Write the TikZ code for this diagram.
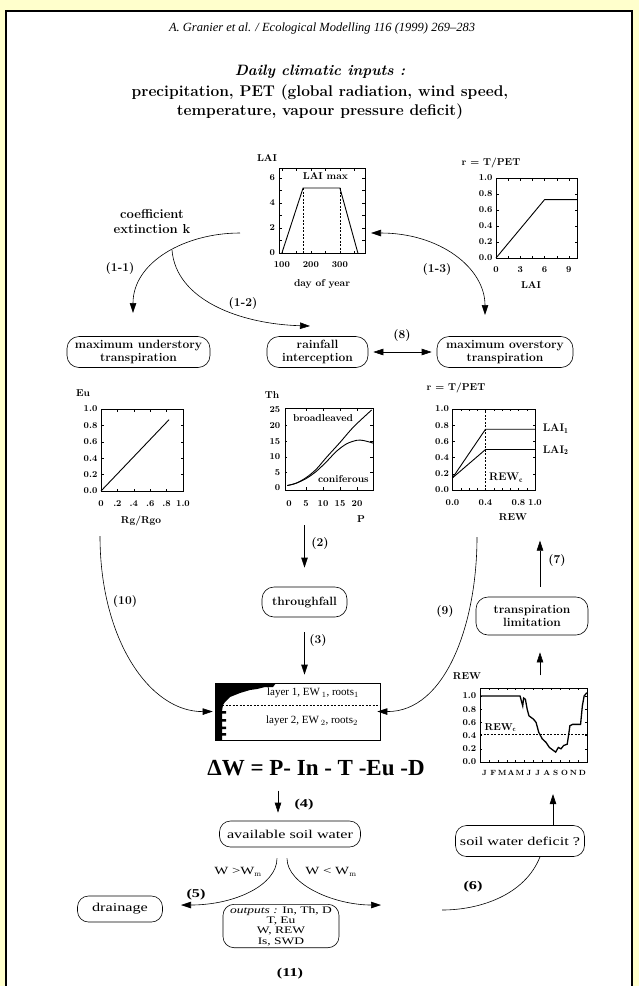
\documentclass[tikz,border=0pt]{standalone}
\usepackage{fontspec}
\newfontfamily\timesfont{Liberation Serif}
\newfontfamily\widefont[FakeStretch=1.35]{Liberation Serif}
\usetikzlibrary{arrows.meta, positioning}
\definecolor{pagebg}{RGB}{255,255,204}

\tikzset{
  stagebox/.style={draw, line width=0.6pt, rounded corners=12pt, align=center, inner sep=2pt, font=\fontsize{12}{13}\selectfont\bfseries},
  lowbox/.style={draw, line width=0.6pt, rounded corners=11pt, align=center, inner sep=2pt, font=\widefont\fontsize{12}{13}\selectfont},
  flow/.style={-{Triangle[length=10pt,width=6.5pt]}, line width=0.6pt},
  twoway/.style={{Triangle[length=10pt,width=6.5pt]}-{Triangle[length=10pt,width=6.5pt]}, line width=0.6pt},
  steplabel/.style={font=\fontsize{12}{13}\selectfont\bfseries},
  lowlabel/.style={font=\widefont\bfseries\fontsize{12}{13}\selectfont},
  ticklab/.style={font=\fontsize{9}{10}\selectfont\bfseries, inner sep=1pt},
  axtitle/.style={font=\fontsize{10}{11}\selectfont\bfseries, inner sep=1pt},
  plotframe/.style={line width=0.6pt},
  curve/.style={line width=0.9pt},
  guide/.style={line width=0.5pt, dash pattern=on 2pt off 1.5pt},
}

\begin{document}
\begin{tikzpicture}[x=1pt, y=-1pt]
  \useasboundingbox (0,0) rectangle (639,986);
  \fill[pagebg] (0,0) rectangle (639,986);
  \draw[fill=white, line width=1.2pt] (6,11) rectangle (632,995);

  % heading
  \node[font=\timesfont\itshape\fontsize{12.5}{14}\selectfont] (journal) at (322,28) {A. Granier et al. / Ecological Modelling 116 (1999) 269–283};
  \node[font=\fontsize{15}{17}\selectfont\bfseries\itshape] (inputs) at (320,72) {Daily climatic inputs :};
  \node[font=\fontsize{15.5}{19}\selectfont\bfseries, align=center] (drivers) at (320,102) {precipitation, PET (global radiation, wind speed,\\temperature, vapour pressure deficit)};

  % LAI over the year
  \node[axtitle] (laititle) at (267,158) {LAI};
  \node[axtitle] (laidays) at (322,284) {day of year};
  \begin{scope}[shift={(279,253)}, x=0.29pt, y=12.5pt]
    \draw[plotframe] (0,0) rectangle (296,6.8);
    \foreach \d in {10,60,...,260} {
      \draw (\d,0) -- ++(0,2.5pt);
      \draw (\d,6.8) -- ++(0,-2.5pt);
    }
    \foreach \v in {1,...,6} {
      \draw (0,\v) -- ++(2.5pt,0);
      \draw (296,\v) -- ++(-2.5pt,0);
    }
    \foreach \v in {0,2,4,6} \node[ticklab, anchor=east] (laiy\v) at (-10,\v) {\v};
    \foreach \d in {100,200,300} \node[ticklab] (laix\d) at (\d-90,-0.95) {\d};
    \draw[curve] (10,0) -- (83,5.2) -- (210,5.2) -- (272,0);
    \draw[guide] (83,5.2) -- (83,0);
    \draw[guide] (210,5.2) -- (210,0);
    \node[axtitle] (laimax) at (160,6.15) {LAI max};
  \end{scope}

  % r = T/PET against LAI
  \node[axtitle] (rlaititle) at (491,163) {r = T/PET};
  \node[axtitle] (rlaiaxis) at (531,285) {LAI};
  \begin{scope}[shift={(496,258)}, x=8.1pt, y=80pt]
    \draw[plotframe] (0,0) rectangle (10,1);
    \foreach \a in {1.5,3,...,9} {
      \draw (\a,0) -- ++(0,2.5pt);
      \draw (\a,1) -- ++(0,-2.5pt);
    }
    \foreach \v in {0.2,0.4,0.6,0.8} {
      \draw (0,\v) -- ++(2.5pt,0);
      \draw (10,\v) -- ++(-2.5pt,0);
    }
    \foreach \v [count=\i] in {0.0,0.2,0.4,0.6,0.8,1.0} \node[ticklab, anchor=east] (rlaiy\i) at (-0.3,\v) {\v};
    \foreach \a in {0,3,6,9} \node[ticklab] (rlaix\a) at (\a,-0.14) {\a};
    \draw[curve] (0,0) -- (6,0.73) -- (10,0.73);
  \end{scope}

  % extinction coefficient and the first split
  \node[font=\fontsize{13}{15}\selectfont\bfseries, align=center] (coef) at (152,221) {coefficient\\extinction k};
  \coordinate (kstart) at (240,233);
  \coordinate (ksplit) at (172,250);
  \coordinate (under11) at (133,313);
  \coordinate (rain12) at (310,326);
  \coordinate (lai13) at (371,233);
  \coordinate (over13) at (485,315);
  \draw[flow] (kstart) .. controls (185,233) and (133,262) .. (under11);
  \draw[flow] (ksplit) .. controls (176,300) and (240,324) .. (rain12);
  \draw[twoway] (lai13) .. controls (440,233) and (485,268) .. (over13);
  \node[steplabel] (s11) at (120,268) {(1-1)};
  \node[steplabel] (s12) at (243,303) {(1-2)};
  \node[steplabel] (s13) at (437,269) {(1-3)};

  % middle row of processes
  \node[stagebox, minimum width=143pt, minimum height=31pt] (under) at (138.5,352) {maximum understory\\transpiration};
  \node[stagebox, minimum width=101pt, minimum height=31pt] (rain) at (317.5,352) {rainfall\\interception};
  \node[stagebox, minimum width=136pt, minimum height=31pt] (over) at (505,352) {maximum overstory\\transpiration};
  \draw[twoway, shorten <=5pt, shorten >=5pt] (rain.east) -- (over.west);
  \node[steplabel] (s8) at (402,335) {(8)};

  % Eu against Rg/Rgo
  \node[axtitle] (eutitle) at (83,393) {Eu};
  \node[axtitle] (euaxis) at (141,521) {Rg/Rgo};
  \begin{scope}[shift={(101,491)}, x=82pt, y=82pt]
    \draw[plotframe] (0,0) rectangle (1,1);
    \foreach \a in {0.2,0.4,0.6,0.8} {
      \draw (\a,0) -- ++(0,2.5pt);
      \draw (\a,1) -- ++(0,-2.5pt);
      \draw (0,\a) -- ++(2.5pt,0);
      \draw (1,\a) -- ++(-2.5pt,0);
    }
    \foreach \v [count=\i] in {0.0,0.2,0.4,0.6,0.8,1.0} \node[ticklab, anchor=east] (euy\i) at (-0.03,\v) {\v};
    \foreach \a/\t [count=\i] in {0/0,0.2/.2,0.4/.4,0.6/.6,0.8/.8,1/1.0} \node[ticklab] (eux\i) at (\a,-0.15) {\t};
    \draw[curve] (0,0) -- (0.83,0.87);
  \end{scope}

  % Th against P
  \node[axtitle] (thtitle) at (272,395) {Th};
  \node[axtitle] (thaxis) at (361,519) {P};
  \begin{scope}[shift={(289,488)}, x=3.4pt, y=3.12pt]
    \draw[plotframe] (-1.2,-0.6) rectangle (24.7,25.6);
    \foreach \p in {5,10,15,20} {
      \draw (\p,-0.6) -- ++(0,2.5pt);
      \draw (\p,25.6) -- ++(0,-2.5pt);
    }
    \foreach \v in {5,10,15,20} {
      \draw (-1.2,\v) -- ++(2.5pt,0);
      \draw (24.7,\v) -- ++(-2.5pt,0);
    }
    \foreach \v in {0,5,...,25} \node[ticklab, anchor=east] (thy\v) at (-2.2,\v) {\v};
    \foreach \p in {0,5,...,20} \node[ticklab] (thx\p) at (\p,-5) {\p};
    \draw[curve] plot[smooth] coordinates {(-0.5,0.8) (2,1.5) (5,3.3) (8,6) (11,9.8) (15,14.6) (19,19.6) (24.3,25)};
    \draw[curve] plot[smooth] coordinates {(-0.5,0.8) (2,1.5) (5,3.0) (8,5.3) (11,8.4) (14,11.8) (17,14.2) (20,15.3) (22,15.2) (24.7,14.4)};
    \node[axtitle] (broad) at (10,22.4) {broadleaved};
    \node[axtitle] (conif) at (16,2.9) {coniferous};
  \end{scope}

  % r = T/PET against REW
  \node[axtitle] (rrewtitle) at (456,388) {r = T/PET};
  \node[axtitle] (rrewaxis) at (513,517) {REW};
  \begin{scope}[shift={(452.5,490)}, x=82.5pt, y=81pt]
    \draw[plotframe] (0,0) rectangle (1,1);
    \foreach \a in {0.1,0.2,...,0.95} {
      \draw (\a,0) -- ++(0,2pt);
      \draw (\a,1) -- ++(0,-2pt);
    }
    \foreach \v in {0.2,0.4,0.6,0.8} {
      \draw (0,\v) -- ++(2.5pt,0);
      \draw (1,\v) -- ++(-2.5pt,0);
    }
    \foreach \v [count=\i] in {0.0,0.2,0.4,0.6,0.8,1.0} \node[ticklab, anchor=east] (rrewy\i) at (-0.03,\v) {\v};
    \foreach \a [count=\i] in {0.0,0.4,0.8,1.0} \node[ticklab] (rrewx\i) at (\a,-0.15) {\a};
    \draw[guide] (0.4,0) -- (0.4,1);
    \draw[curve] (0,0.15) -- (0.4,0.75) -- (1,0.75);
    \draw[curve] (0,0.15) -- (0.4,0.5) -- (1,0.5);
    \node[axtitle, font=\fontsize{11}{12}\selectfont\bfseries, anchor=west] (lai1) at (1.08,0.76) {LAI$_\mathbf{1}$};
    \node[axtitle, font=\fontsize{11}{12}\selectfont\bfseries, anchor=west] (lai2) at (1.08,0.49) {LAI$_\mathbf{2}$};
    \node[axtitle, font=\fontsize{11}{12}\selectfont\bfseries] (rewc) at (0.65,0.15) {REW$_\mathbf{c}$};
  \end{scope}

  % throughfall chain
  \coordinate (thtail) at (304.5,525);
  \node[stagebox, minimum width=85pt, minimum height=30pt] (thru) at (304.5,602) {throughfall};
  \draw[flow, shorten >=19pt] (thtail) -- (thru.north);
  \node[steplabel] (s2) at (320,543) {(2)};

  % soil layers
  \node[draw, line width=0.6pt, minimum width=165pt, minimum height=57pt, inner sep=0pt] (soil) at (297.5,711.5) {};
  \fill (215,683) -- (276,683) -- (273,687) -- (265,687) -- (257,689) -- (250,690) -- (240,693)
    -- (230,697) -- (225,702) -- (223,705) -- (222,711) -- (226,711) -- (226,713.5) -- (222,713.5)
    -- (222,719) -- (226,719) -- (226,721.5) -- (222,721.5) -- (222,726.5) -- (226,726.5) -- (226,729)
    -- (222,729) -- (222,733) -- (226,733) -- (226,735.5) -- (222,735.5) -- (222,740) -- (215,740) -- cycle;
  \draw[guide] (222,705) -- (380,705);
  \node[font=\timesfont\fontsize{11}{12}\selectfont] (layer1) at (313,693) {layer 1, EW\,$_1$, roots$_1$};
  \node[font=\timesfont\fontsize{11}{12}\selectfont] (layer2) at (312,721) {layer 2, EW\,$_2$, roots$_2$};
  \draw[flow, shorten <=15pt, shorten >=8pt] (thru.south) -- (thru.south |- soil.north);
  \node[steplabel] (s3) at (318,640) {(3)};

  % side feeds into the soil
  \coordinate (eutail) at (100,536);
  \coordinate (rewtail) at (477,537);
  \draw[flow, shorten >=2pt] (eutail) .. controls (100,640) and (150,712) .. (soil.west);
  \draw[flow, shorten >=-3pt] (rewtail) .. controls (477,625) and (445,712) .. (soil.east);
  \node[steplabel] (s10) at (125,601) {(10)};
  \node[steplabel] (s9) at (445,611) {(9)};

  % water balance
  \node[font=\timesfont\bfseries\fontsize{23}{25}\selectfont] (balance) at (316,768) {ΔW = P- In - T -Eu -D};

  % transpiration limitation
  \node[stagebox, minimum width=112pt, minimum height=38pt] (limit) at (532,616) {transpiration\\limitation};
  \draw[flow] ([xshift=8pt,yshift=10pt]limit.north) -- ++(0,46pt);
  \node[steplabel] (s7) at (557,560) {(7)};
  \draw[flow] ([xshift=8pt,yshift=-40pt]limit.south) -- ([xshift=8pt,yshift=-17pt]limit.south);

  % REW through the year
  \node[axtitle] (rewtitle) at (467,676) {REW};
  \begin{scope}[shift={(480,762)}, x=8.9pt, y=66pt]
    \draw[plotframe] (0,0) rectangle (12,1.12);
    \foreach \m in {1,...,11} {
      \draw (\m,0) -- ++(0,2pt);
      \draw (\m,1.12) -- ++(0,-2pt);
    }
    \foreach \v in {0.2,0.4,0.6,0.8,1.0} {
      \draw (0,\v) -- ++(2pt,0);
      \draw (12,\v) -- ++(-2pt,0);
    }
    \foreach \v [count=\i] in {0.0,0.2,0.4,0.6,0.8,1.0} \node[ticklab] [anchor=east] (rewy\i) at (-0.3,\v) {\v};
    \foreach \m [count=\i from 0] in {J,F,M,A,M,J,J,A,S,O,N,D} \node[ticklab, font=\fontsize{7.5}{8}\selectfont\bfseries] (mon\i) at (\i+0.5,-0.17) {\m};
    \draw[guide] (0,0.42) -- (12,0.42);
    \draw[line width=1.3pt] (0,1.0) -- (4.5,1.0) -- (4.7,0.9) -- (4.8,0.85) -- (4.9,0.97) -- (5.1,0.95) -- (5.3,0.8)
      -- (5.5,0.7) -- (6.0,0.65) -- (6.3,0.6) -- (6.6,0.45) -- (7.0,0.35) -- (7.4,0.3) -- (7.8,0.22) -- (8.2,0.18)
      -- (8.5,0.15) -- (8.8,0.22) -- (9.1,0.2) -- (9.4,0.25) -- (9.8,0.27) -- (10.0,0.45) -- (10.1,0.55)
      -- (10.4,0.57) -- (11.3,0.57) -- (11.5,0.85) -- (11.7,1.0) -- (12,1.05);
    \node[axtitle] (rewcs) at (2.3,0.52) {REW$_\mathbf{c}$};
  \end{scope}

  % soil water and its fate
  \node[lowbox, minimum width=141pt, minimum height=26pt] (avail) at (290,834) {available soil water};
  \node[lowbox, minimum width=129pt, minimum height=31pt] (deficit) at (520,841) {soil water deficit ?};
  \node[lowbox, minimum width=85pt, minimum height=26pt] (drain) at (120,909) {drainage};
  \node[lowbox, minimum width=116pt, minimum height=42pt, font=\widefont\fontsize{10}{10.3}\selectfont] (outputs) at (281,926) {\textit{outputs :} In, Th, D\\T, Eu\\W, REW\\Is, SWD};
  \coordinate (drain5) at (181,905);
  \coordinate (right5) at (381,905);
  \coordinate (defend) at (442,910);
  \draw[flow] ([xshift=-12pt,yshift=30pt]avail.north) -- ([xshift=-12pt,yshift=8pt]avail.north);
  \node[lowlabel] (s4) at (304,805) {(4)};
  \draw[flow] ([xshift=-13pt,yshift=-11pt]avail.south) .. controls (277,885) and (235,905) .. (drain5);
  \draw[flow] ([xshift=-3pt,yshift=-11pt]avail.south) .. controls (287,885) and (335,905) .. (right5);
  \node[font=\widefont\fontsize{11}{12}\selectfont] (wover) at (238,872) {W >W$_\mathrm{m}$};
  \node[font=\widefont\fontsize{11}{12}\selectfont] (wunder) at (331,872) {W < W$_\mathrm{m}$};
  \node[lowlabel] (s5) at (196,895) {(5)};
  \draw[flow] ([xshift=33pt]deficit.north) -- ++(0,31pt);
  \draw[line width=0.6pt] ([xshift=20pt]deficit.south) .. controls (525,895) and (480,910) .. (defend);
  \node[lowlabel] (s6) at (473,887) {(6)};
  \node[lowlabel] (s11b) at (290,974) {(11)};
\end{tikzpicture}
\end{document}
